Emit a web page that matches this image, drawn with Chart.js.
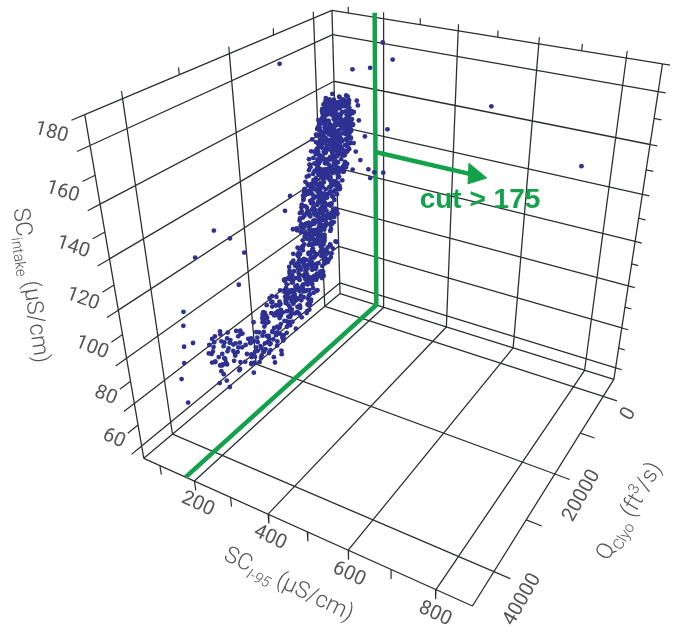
<!DOCTYPE html>
<html><head><meta charset="utf-8">
<script src="https://cdn.jsdelivr.net/npm/chart.js@4.4.1/dist/chart.umd.min.js"></script>
<style>html,body{margin:0;padding:0;background:#fff;overflow:hidden}</style>
</head><body>
<canvas id="c" width="673" height="636"></canvas>
<script>
// ---- axis ranges and ticks ----
const X_RANGE = [52, 878];        // SC I-95 (µS/cm)
const Q_RANGE = [-5000, 46000];   // Q Clyo (ft3/s)
const Z_RANGE = [54, 190];        // SC intake (µS/cm)
const xTicksMajor = [200, 400, 600, 800];
const xTicksMinor = [100, 300, 500, 700];
const qTicksMajor = [0, 20000, 40000];
const qTicksMinor = [10000, 30000];
const zTicksMajor = [60, 80, 100, 120, 140, 160, 180];
const zTicksMinor = [70, 90, 110, 130, 150, 170, 190];
const xTickLabels = ['200', '400', '600', '800'];
const qTickLabels = ['0', '20000', '40000'];
const zTickLabels = ['60', '80', '100', '120', '140', '160', '180'];
const cutValue = 175;
const cutLabel = 'cut > 175';
const arrowZ = 132;

// ---- data, by band: z = SC intake, q = Q Clyo, x = SC I-95 ----
const zBand1 = [160,158.5,161,157.5,159,160.5,158,157,159.5,158, 158,159,160,158.5,157.5,159,158,160.5,157,159.5];
const qBand1 = [700,800,450,1000,600,500,850,1100,650,900, 900,700,500,1000,1100,800,1100,300,1200,750];
const xBand1 = [128,112,145,120,150,105,138,118,155,132, 110,142,125,158,115,135,102,148,122,140];

const zBand2 = [
157,155,153,156,151,158,154,152,150,155.5,
156.5,154.5,152.5,150.5,157.5,153.5,151.5,155,154,152,
150,153,156,151,154,157,152,155,158,150.5,
155.5,153.5,151.5,156.5,154.5,150,152.5,157,153,151,
152,154,156,150.5,153,155,157.5,151,154.5,156,
150,151.5,153.5,155.5,157,152.5,154,156.5,150.5,158,
154,152,150,156,158,153,151,155,157,152.5,
151,153,155,157,150,152,154,156,158,150,
156,154,152,150,155,153,151,157,154.5,152.5,
151.5,153.5,155.5,150.5,156.5,152,154,150,155,157,
153,151,155,157,152,150,156,154,151,153.5,
154,150.5,156,152.5,157,151,155.5,153,150,152];
const qBand2 = [
900,1200,900,600,1800,400,1500,1000,1300,700,
1100,800,1600,1200,500,1400,1100,1300,700,1700,
1800,900,1200,1600,1300,1000,900,700,600,1400,
1300,1500,1000,700,1200,1100,1500,800,1100,1700,
1200,800,1100,1700,1400,900,900,1200,1500,600,
1200,1600,1000,1100,600,1400,1300,800,1600,900,
900,1500,1400,1000,800,1300,1200,1400,1000,1100,
1500,1100,800,800,1900,1000,1700,1200,500,1600,
1000,1300,1100,1700,800,1000,1600,700,1400,1200,
1300,1300,1200,1300,700,1500,900,1600,1100,900,
1400,1200,900,800,1100,1400,1100,1200,1700,1000,
1000,1600,800,1400,1000,1500,1000,1300,1300,1200];
const xBand2 = [
132,98,151,117,168,84,140,109,159,125,
103,146,86,163,121,137,92,171,113,128,
155,88,134,119,82,149,106,165,97,142,
124,161,81,139,111,170,95,130,79,153,
115,136,158,90,127,105,145,85,166,120,
142,87,119,166,101,135,88,157,126,110,
93,128,172,107,144,82,161,118,137,99,
169,112,86,150,131,96,123,85,147,139,
108,154,127,94,170,117,141,86,162,131,
136,101,163,123,88,152,114,168,91,145,
121,149,97,133,158,81,126,104,167,114,
87,139,118,170,102,146,129,93,156,111];

const zBand3 = [
149,147,145,143,141,148,146,144,142,140,
148.5,146.5,144.5,142.5,140.5,149.5,147.5,145.5,143.5,141.5,
140,142,144,146,148,141,143,145,147,149,
145,147,149,141,143,140.5,142.5,144.5,146.5,148.5,
143,146,149,140,144,147,141,145,148,142,
147.5,144,141,148,145.5,142,149,146,143.5,140,
141.5,144,146.5,149,142,145,148,140.5,143,147,
146,142,148,144,140,145,149,141,147,143,
144.5,147.5,141,149.5,143,146,140,148,142.5,145,
149,146,143,140,148,145,142,147,144,141,
147.5,144.5,141.5,148.5,145.5,142.5,149.5,146.5,143.5,140.5,
142,148,145,149,141,146,143,140,147,144,
145,141,147,143,149,140,146,142,148,144,
148,143,146,141,144,149,142,147,140,145.5];
const qBand3 = [
1600,2000,2300,2100,2900,1500,1800,2600,2400,2600,
1900,2300,1900,2800,2500,1300,1700,2200,2700,2400,
3200,2200,2600,1700,1600,2800,2300,2000,2100,1400,
1800,1600,1800,2500,2600,3000,2700,2100,2200,1500,
2500,1900,1500,2900,2300,2000,2600,1900,1800,2300,
1900,2400,2700,1700,2000,2900,1700,2200,2400,3000,
2800,2000,2100,1600,2600,2200,1900,2700,2100,1800,
1800,2700,1500,2300,2800,2000,1700,3100,1700,2400,
2200,1700,2400,1600,2900,2100,2600,2000,2300,2300,
1700,2100,2200,2700,1900,2000,2600,1700,2400,2800,
1600,2100,2500,1800,2200,2400,1600,2000,2500,2900,
2400,1600,2300,1500,2800,1800,2400,3000,1900,2100,
2100,2600,1900,2500,1700,2700,2000,2800,1700,2300,
1800,2300,2100,2700,2200,1500,2700,1800,2900,2000];
const xBand3 = [
160,95,138,83,124,168,107,150,118,134,
113,170,89,127,149,100,164,122,78,143,
148,106,131,160,92,119,173,98,136,85,
132,98,151,117,168,84,140,109,159,125,
103,146,76,163,121,137,92,171,113,128,
155,88,134,119,72,149,106,165,97,142,
124,161,81,139,111,174,95,130,69,153,
115,136,158,90,127,105,145,79,166,120,
142,77,119,166,101,135,88,157,126,110,
93,128,172,107,144,82,161,118,137,99,
169,112,86,150,131,96,123,75,147,139,
108,154,127,94,175,117,141,86,162,131,
136,101,163,123,80,152,114,170,91,145,
121,149,97,133,158,71,126,104,167,114];

const zBand4 = [
139,137,135,133,131,138,136,134,132,130,
138.5,136.5,134.5,132.5,130.5,139.5,137.5,135.5,133.5,131.5,
130,132,134,136,138,131,133,135,137,139,
135,137,139,131,133,130.5,132.5,134.5,136.5,138.5,
133,136,139,130,134,137,131,135,138,132,
137.5,134,131,138,135.5,132,139,136,133.5,130,
131.5,134,136.5,139,132,135,138,130.5,133,137,
136,132,138,134,130,135,139,131,137,133,
139,136,133,130,138,135,132,137,134,131,
137.5,134.5,131.5,138.5,135.5,132.5,139.5,136.5,133.5,130.5,
132,138,135,139,131,136,133,130,137,134,
135,131,137,133,139,130,136,132,138,134,
138,133,136,131,134,139,132,137,130,135.5];
const qBand4 = [
2900,3400,3500,4200,4300,3300,3300,4000,4700,4500,
3000,3800,3600,4100,5000,2700,3000,3900,3800,4800,
5200,4000,3600,3800,2900,4400,4200,3400,3500,3100,
3800,3100,2600,4800,3700,4600,4500,4000,3300,3400,
4300,3600,3000,4900,4000,3400,4400,3700,3200,4600,
3200,4100,4600,3000,3600,4300,2800,3700,3900,4400,
4500,3700,3400,2900,4500,3600,3300,4900,4100,3200,
3300,4400,3100,3800,4900,3400,3000,4700,3600,4000,
2900,3600,4000,4800,3000,3800,4200,3300,3700,4600,
3300,3800,4400,3200,3400,4100,2900,3400,4000,4600,
4200,3200,3500,3000,4700,3500,4200,4800,3300,3900,
3600,4300,3200,4100,2800,4700,3400,4500,3100,3800,
3300,4000,3700,4500,3800,3000,4400,3500,4900,3500];
const xBand4 = [
87,139,118,172,102,146,129,93,156,111,
160,95,138,83,124,168,107,150,118,134,
113,170,89,127,149,100,164,122,78,143,
148,106,131,160,92,119,173,98,136,85,
132,98,151,117,168,84,140,109,159,125,
103,146,76,163,121,137,92,171,113,128,
155,88,134,119,72,149,106,165,97,142,
124,161,81,139,111,174,95,130,69,153,
115,136,158,90,127,105,145,79,166,120,
142,77,119,166,101,135,88,157,126,110,
93,128,172,107,144,82,161,118,137,99,
169,112,86,150,131,96,123,75,147,139,
108,154,127,94,175,117,141,86,162,131];

const zBand5 = [
129,127,125,123,121,128,126,124,122,120,
128.5,126.5,124.5,122.5,120.5,129.5,127.5,125.5,123.5,121.5,
120,122,124,126,128,121,123,125,127,129,
125,127,129,121,123,120.5,122.5,124.5,126.5,128.5,
123,126,129,120,124,127,121,125,128,122,
127.5,124,121,128,125.5,122,129,126,123.5,120,
121.5,124,126.5,129,122,125,128,120.5,123,127,
129,126,123,120,128,125,122,127,124,121,
127.5,124.5,121.5,128.5,125.5,122.5,129.5,126.5,123.5,120.5,
122,128,125,129,121,126,123,120,127,124,
125,121,127,123,129,120,126,122,128,124,
128,123,126,121,124,129,122,127,120,125.5];
const qBand5 = [
5000,5300,6200,6500,7300,5000,5900,6100,7000,7200,
5300,5400,6400,6600,7700,4600,5700,5700,6900,7100,
7900,6600,6500,5400,5500,7400,6400,6100,5200,4800,
5800,5600,4900,7000,6800,7600,7100,6100,5800,5000,
6200,5800,5100,7300,6700,5300,7600,5600,5300,6800,
5500,6400,7100,5400,5900,7200,4800,5600,6500,7600,
7300,6000,6000,4700,6700,6200,5100,7400,6400,5500,
4900,5800,6400,7400,5100,6100,6800,5400,6200,7100,
5500,6100,7000,5300,5800,6900,4800,5500,6700,7500,
6800,5300,6000,4900,7200,5700,6500,7700,5100,6400,
5900,7000,5500,6700,5000,7600,5800,6900,5300,6100,
5000,6600,5600,7300,6200,4700,7000,5200,7300,5800];
const xBand5 = [
136,101,163,123,80,152,114,170,91,145,
121,149,97,133,158,71,126,104,167,114,
87,139,118,172,102,146,129,93,156,111,
160,95,138,83,124,168,107,150,118,134,
113,170,89,127,149,100,164,122,78,143,
148,106,131,160,92,119,173,98,136,85,
132,98,151,117,168,84,140,109,159,125,
103,146,76,163,121,137,92,171,113,128,
155,88,134,119,72,149,106,165,97,142,
124,161,81,139,111,174,95,130,69,153,
115,136,158,90,127,105,145,79,166,120,
142,77,119,166,101,135,88,157,126,110];

const zBand6 = [
119,117,115,113,111,118,116,114,112,110,
118.5,116.5,114.5,112.5,110.5,119.5,117.5,115.5,113.5,111.5,
110,112,114,116,118,111,113,115,117,119,
115,117,119,111,113,110.5,112.5,114.5,116.5,118.5,
113,116,119,110,114,117,111,115,118,112,
117.5,114,111,118,115.5,112,119,116,113.5,110,
119,116,113,110,118,115,112,117,114,111,
117.5,114.5,111.5,118.5,115.5,112.5,119.5,116.5,113.5,110.5,
112,118,115,119,111,116,113,110,117,114,
115,111,117,113,119,110,116,112,118,114,
118,113,116,111,114,119,112,117,110,115.5,
116,112,118,114,110,117,113,119,111,115,
113.5,117.5,110.5,115.5,119,112.5,116.5,111,118,114.5];
const qBand6 = [
7600,8500,8800,9700,10600,8300,8600,9400,10400,11200,
7900,8800,9000,10100,10500,7600,8100,9200,9600,10700,
11000,9800,9100,8800,8000,10300,10000,9000,8200,7900,
8900,8200,7800,10900,9800,10600,9900,9500,8500,8200,
9500,8600,7400,10700,9200,8400,10200,9000,8100,10300,
8300,9600,10500,7800,9000,10200,7700,8900,9700,11100,
7700,8600,9600,10900,8000,9100,10000,8400,9300,10600,
8300,9100,10400,7900,8900,9900,7600,8700,9500,10700,
10200,8100,8800,7800,10500,8900,9700,11000,8400,9300,
9000,10300,8300,9800,7500,10900,8600,10000,8200,9600,
8000,9500,8800,10600,9200,7900,10100,8500,11100,8900,
8500,10100,8200,9400,11000,8300,9900,7700,10400,9000,
9800,8400,10800,8900,7600,10000,8700,10600,8100,9200];
const xBand6 = [
108,143,187,122,159,97,176,133,152,114,
184,127,101,165,146,111,138,90,162,154,
123,169,142,109,190,132,156,101,177,146,
151,116,178,138,95,167,129,185,106,160,
136,164,112,148,173,86,141,119,182,129,
102,154,133,187,117,161,144,108,171,126,
175,110,153,98,139,183,122,165,133,149,
128,185,104,142,164,115,179,137,93,158,
163,121,146,175,107,134,188,113,151,100,
147,113,166,132,183,99,155,124,174,140,
118,161,91,178,136,152,107,186,128,143,
170,103,149,134,87,164,121,180,112,157,
139,176,96,154,126,189,110,145,84,168];

const zBand7 = [
105,103,101,99,97,104,102,100,98,96,
104.5,102.5,100.5,98.5,96.5,105.5,103.5,101.5,99.5,97.5,
96,98,100,102,104,97,99,101,103,105,
101,103,105,97,99,96.5,98.5,100.5,102.5,104.5,
99,102,105,96,100,103,97,101,104,98,
105,102,99,96,104,101,98,103,100,97,
103.5,100.5,97.5,104.5,101.5,98.5,105.5,102.5,99.5,96.5,
98,104,101,105,97,102,99,96,103,100,
101,97,103,99,105,96,102,98,104,100,
104,99,102,97,100,105,98,103,96,101.5,
102,98,104,100,96,103,99,105,97,101,
99.5,103.5,96.5,101.5,105,98.5,102.5,97,104,100.5];
const qBand7 = [
8200,9400,9800,11000,11600,8600,9900,10200,11800,12400,
9100,9000,10600,10700,12500,8100,8800,9600,11100,11400,
11800,11700,9900,9200,9300,12200,10500,10100,9000,8700,
9400,8900,8400,12000,10800,12300,11100,10300,10000,8500,
10300,9500,7900,12800,10700,9100,11200,9800,9000,11500,
8300,9500,10900,12300,8700,9800,11500,9100,10300,11900,
8900,10200,11700,8600,9900,11200,8100,9400,10600,12200,
11200,9000,10000,8200,11600,9800,10700,12600,9200,10500,
9600,11800,9100,10800,8000,12100,9300,11400,8500,10200,
8800,11100,9700,11500,10400,8500,11000,8900,12400,10100,
9600,11400,8700,10400,12400,9200,10900,8400,11700,9900,
10600,8900,12300,9800,8100,11200,9500,11900,8800,10200];
const xBand7 = [
130,151,173,105,142,120,160,94,181,135,
157,92,134,181,116,150,103,172,141,125,
108,143,187,122,159,97,176,133,152,114,
184,127,101,165,146,111,138,90,162,154,
123,169,142,109,190,132,156,101,177,146,
151,116,178,138,95,167,129,185,106,160,
136,164,112,148,173,86,141,119,182,129,
102,154,133,187,117,161,144,108,171,126,
175,110,153,98,139,183,122,165,133,149,
128,185,104,142,164,115,179,137,93,158,
163,121,146,175,107,134,188,113,151,100,
147,113,166,132,183,99,155,124,174,140];

const zBand8 = [
93.5,91.5,89.5,87.5,92.5,90.5,88.5,86.5,94,90,
93,91,89,87,92,89.5,88,93.5,90.5,88.5,
86.5,88.5,90.5,92.5,94.5,87.5,89.5,91.5,93.5,91,
89.5,91.5,93.5,87.5,89,87,92.5,90.5,94.5,92,
87.5,90.5,93.5,86.5,88.5,91.5,90,93,88,94.5,
93.5,91.5,89.5,87.5,92.5,90.5,88.5,86.5,92,90,
93,91,89,87,94,89.5,88,91.5,90.5,88.5,
87.5,89.5,91.5,93.5,86.5,88.5,90.5,92.5,94.5,90,
90.5,92.5,88.5,94.5,87.5,91.5,89.5,93.5,87,92,
88.5,93.5,90.5,86.5,92.5,89.5,87.5,91.5,94,91,
91.5,87.5,93.5,89.5,86.5,92.5,88.5,90.5,94.5,88,
90,94,87,91,92.5,89,92,87.5,93.5,90.5];
const qBand8 = [
12000,12600,14200,15700,12700,13200,15300,16600,11400,13800,
12100,14100,14400,16800,12500,14800,15200,11600,13100,14600,
15800,15000,13400,13000,11000,16300,13800,12900,12300,13600,
14300,13200,11800,15500,14700,16100,11900,14000,11700,12800,
17000,14500,12200,15200,15800,12300,13500,12400,16100,10800,
11700,13000,13900,15600,12200,13500,15100,16000,12600,14100,
12300,13400,14600,16400,11500,14000,15800,12800,13200,14800,
15400,14500,13100,12100,16700,15100,13800,12500,11300,14300,
13300,12600,15500,10900,15900,12400,14700,11900,15700,13100,
14400,11800,14100,16900,12900,13800,16200,12700,12000,13500,
13100,15500,12000,14200,16500,12500,15000,13700,11500,15300,
14000,11700,16200,13400,12300,14600,12800,15700,12100,13600];
const xBand8 = [
118,161,91,178,136,152,107,186,128,143,
170,103,149,134,87,164,121,180,112,157,
139,176,96,154,126,189,110,145,84,168,
130,151,173,105,142,120,160,94,181,135,
157,92,134,181,116,150,103,172,141,125,
108,143,187,122,159,97,176,133,152,114,
184,127,101,165,146,111,138,90,162,154,
123,169,142,109,190,132,156,101,177,146,
151,116,178,138,95,167,129,185,106,160,
136,164,112,148,173,86,141,119,182,129,
102,154,133,187,117,161,144,108,171,126,
175,110,153,98,139,183,122,165,133,149];

const zBand9 = [
84.5,82.5,80.5,79,83.5,81.5,79.5,85,83,81,
84,82,80,78.5,84.5,82.5,80.5,85.5,83.5,81.5,
78.5,80.5,82.5,84.5,79.5,81.5,83.5,85.5,80,83,
81.5,83.5,79.5,84.5,81,79,82.5,85.5,80.5,84,
82.5,79.5,85,82,78.5,83.5,80.5,85.5,81.5,79.5,
84,82.5,81,79.5,83,81.5,80,85,82.5,81.5,
83.5,82,80.5,79,84.5,82,80,85,83,81,
79.5,81.5,83.5,85.5,78.5,80.5,82.5,84.5,82,80,
82.5,84.5,80.5,79,83.5,81.5,79.5,85.5,81,83,
80.5,83.5,78.5,81.5,84.5,79.5,82.5,85.5,80,84];
const qBand9 = [
16200,18100,19900,21600,16800,19600,21100,16600,17800,20400,
17900,18800,21900,23100,15700,17400,20600,16900,17500,18300,
22000,20300,19400,16500,22800,18600,16300,15100,20200,17100,
20100,17600,22400,17700,19300,23700,18500,15900,21400,16400,
19100,20800,17400,20000,23500,17300,19700,16700,18700,22200,
16900,18200,20300,22200,17500,19400,21700,16200,18000,19800,
16600,19500,21300,22500,17200,17700,20100,15700,18100,18900,
20800,19200,18300,15500,23000,20900,18400,17000,19700,21600,
18600,16500,20500,22700,17100,19900,21000,16000,19100,17600,
20000,17900,21900,19600,16300,22200,18100,15200,20700,16800];
const xBand9 = [
133,77,164,110,186,89,148,119,173,101,
114,156,81,141,179,98,167,125,85,152,
171,95,136,75,160,123,187,106,144,83,
88,149,175,116,80,162,132,183,103,140,
155,107,79,168,127,190,94,145,112,176,
128,185,104,142,164,115,179,137,93,158,
163,121,146,175,107,134,188,113,151,100,
147,113,166,132,183,99,155,124,174,140,
118,161,91,178,136,152,107,186,128,143,
170,103,149,134,87,164,121,180,112,157];

const zBand10 = [
80.5,78.5,76.5,74.5,79.5,77.5,75.5,81,79,77,
80,78,76,74,80.5,78.5,76.5,75,79.5,77.5,
81.5,79.5,77.5,75.5,73.5,80.5,78.5,76.5,74.5,82.5,
80.5,79.5,78.5,77.5,76.5,81,80,79,78,77,
79.5,78.5,80.5,77.5,80,76.5,79,80.5,77.5,79.5];
const qBand10 = [
25200,27500,29400,32200,26400,29000,30800,24300,27100,30500,
25900,28600,31300,33400,27000,26700,28900,32800,25000,29800,
25700,28000,28100,31600,34200,23900,29200,31900,30700,26200,
25700,26900,27700,29300,30400,24700,26000,28500,28700,30000,
26300,27800,25000,29600,26500,30900,27400,26100,28400,27200];
const xBand10 = [
133,77,164,110,186,89,148,119,173,101,
114,156,81,141,179,98,167,125,85,152,
171,95,136,75,160,123,187,106,144,83,
88,149,175,116,80,162,132,183,103,140,
155,107,79,168,127,190,94,145,112,176];

const zBand11 = [
85,83,87,82.5,86,84,88,83.5,85.5,82,
84.5,86.5,83,87.5,82,85,84,86,83.5,87,
86,82.5,84.5,87,83,85.5,82,84,86.5,85];
const qBand11 = [
30500,32800,29400,33600,30900,31800,29000,32300,30200,33900,
31200,29800,32600,29300,34100,30700,31500,30000,33200,29600,
29900,33300,31000,29100,32900,30400,33800,31700,30100,31300];
const xBand11 = [
95,132,78,150,110,88,165,120,72,140,
125,84,158,100,136,70,147,116,92,170,
105,143,80,128,96,155,118,74,162,112];

const zBand12 = [
76,73,78,74.5,77,72.5,75.5,79,73.5,76.5,
74,77.5,72,75,78.5,73,76,79.5,74.5,71.5];
const qBand12 = [
23500,25200,22400,24600,23000,25800,24000,22200,25000,23700,
24800,22800,25500,23300,22600,24900,23900,22100,24300,25600];
const xBand12 = [
150,122,178,135,165,118,188,142,128,172,
160,131,185,145,120,175,138,155,192,126];

const zOutliers = [185,172,174,185,179,168,152,160,158,152,146,143,140,137,133,133,131,150,134,133,126,121,138,145,135,130,122,130,112,97,99,104,108,92,88,78,81,86,84];
const qOutliers = [15500,0,0,0,0,0,0,700,600,900,1200,2000,2400,2600,2600,3400,3300,200,2800,2000,11500,13000,7000,5500,31000,29000,27000,35500,29500,39000,38500,38000,37000,40000,41500,41500,37000,33500,34500];
const xOutliers = [130,160,210,245,272,530,755,178,180,185,205,180,190,205,245,190,240,260,230,265,90,90,100,95,115,130,140,120,150,110,130,100,90,120,130,140,172,110,150];

const bands = [
  [zBand1,qBand1,xBand1],[zBand2,qBand2,xBand2],[zBand3,qBand3,xBand3],[zBand4,qBand4,xBand4],
  [zBand5,qBand5,xBand5],[zBand6,qBand6,xBand6],[zBand7,qBand7,xBand7],[zBand8,qBand8,xBand8],
  [zBand9,qBand9,xBand9],[zBand10,qBand10,xBand10],[zBand11,qBand11,xBand11],[zBand12,qBand12,xBand12],
  [zOutliers,qOutliers,xOutliers]
];
const scIntake=[], qClyo=[], scI95=[];
for(const [z,q,x] of bands){ const n=Math.min(z.length,q.length,x.length); for(let i=0;i<n;i++){ scIntake.push(z[i]); qClyo.push(q[i]); scI95.push(x[i]); } }

// ---- view: unit-box corners (u=X, v=Q, w=Z) -> chart units ----
const VIEW_CORNERS = [
  [0,1,0, 142.7,460], [0,1,1, 83,112.5], [1,1,0, 473,608], [0,0,1, 331.7,8.3],
  [1,0,1, 665,62], [1,0,0, 616,380], [0,0,0, 340,293]
];
function solveCamera(pts){
  const A=[], b=[];
  for(const [u,v,w,x,y] of pts){
    A.push([u,v,w,1,0,0,0,0,-x*u,-x*v,-x*w]); b.push(x);
    A.push([0,0,0,0,u,v,w,1,-y*u,-y*v,-y*w]); b.push(y);
  }
  const n=11, M=[];
  for(let i=0;i<n;i++){ M.push(new Array(n+1).fill(0)); }
  for(let r=0;r<A.length;r++){
    for(let i=0;i<n;i++){
      for(let j=0;j<n;j++) M[i][j]+=A[r][i]*A[r][j];
      M[i][n]+=A[r][i]*b[r];
    }
  }
  for(let i=0;i<n;i++){
    let p=i; for(let k=i+1;k<n;k++) if(Math.abs(M[k][i])>Math.abs(M[p][i])) p=k;
    const t=M[i]; M[i]=M[p]; M[p]=t;
    for(let k=0;k<n;k++){ if(k===i) continue; const f=M[k][i]/M[i][i]; for(let j=i;j<=n;j++) M[k][j]-=f*M[i][j]; }
  }
  return M.map((row,i)=>row[n]/row[i]);
}
const CAM = solveCamera(VIEW_CORNERS);
const [Xa,Xb]=X_RANGE, [Qa,Qb]=Q_RANGE, [Za,Zb]=Z_RANGE;
function proj(X,Q,Z){
  const u=(X-Xa)/(Xb-Xa), v=(Q-Qa)/(Qb-Qa), w=(Z-Za)/(Zb-Za);
  const d=CAM[8]*u+CAM[9]*v+CAM[10]*w+1;
  return {x:(CAM[0]*u+CAM[1]*v+CAM[2]*w+CAM[3])/d, y:(CAM[4]*u+CAM[5]*v+CAM[6]*w+CAM[7])/d};
}
function seg(arr,a,b){ const p=proj(a[0],a[1],a[2]), q=proj(b[0],b[1],b[2]); arr.push(p,q,{x:q.x,y:null}); }

// grid (left wall, back wall, floor)
const gridData=[];
for(const z of [Za,...zTicksMajor,Zb]) seg(gridData,[Xa,Qa,z],[Xa,Qb,z]);
for(const q of [Qa,...qTicksMajor,Qb]) seg(gridData,[Xa,q,Za],[Xa,q,Zb]);
for(const z of [Za,...zTicksMajor,Zb]) seg(gridData,[Xa,Qa,z],[Xb,Qa,z]);
for(const x of [...xTicksMajor,Xb]) seg(gridData,[x,Qa,Za],[x,Qa,Zb]);
for(const x of [...xTicksMajor,Xb]) seg(gridData,[x,Qa,Za],[x,Qb,Za]);
for(const q of [...qTicksMajor,Qb]) seg(gridData,[Xa,q,Za],[Xb,q,Za]);

// ticks
const tickData=[];
const zAll=[...zTicksMajor,...zTicksMinor], xAll=[...xTicksMajor,...xTicksMinor], qAll=[...qTicksMajor,...qTicksMinor];
for(const z of zAll){ seg(tickData,[Xa,Qb,z],[Xa,Qb+2000,z]); seg(tickData,[Xb,Qa,z],[Xb+16,Qa,z]); }
for(const x of xAll){ seg(tickData,[x,Qb,Za],[x,Qb,Za-4.5]); seg(tickData,[x,Qa,Zb],[x,Qa,Zb+2.5]); }
for(const q of qAll){ seg(tickData,[Xb,q,Za],[Xb+35,q,Za]); seg(tickData,[Xa,q,Zb],[Xa,q,Zb+2.5]); }

// cut plane trace and arrow
const greenData=[proj(cutValue,Qb,Za),proj(cutValue,Qa,Za),proj(cutValue,Qa,Zb+1.8)];
const shaftData=[proj(cutValue,Qa,arrowZ),proj(450,Qa,arrowZ)];
const headData=[proj(494,Qa,arrowZ),proj(444,Qa,arrowZ+4.6),proj(444,Qa,arrowZ-4.6),proj(494,Qa,arrowZ)];

const pointData=scIntake.map((z,i)=>proj(scI95[i],qClyo[i],z));

const GRID='#2b302f', GREEN='#13a24b', NAVY='#2e3192', TXT='#555555';

const textPlugin={
  id:'labels3d',
  afterDraw(chart){
    const ctx=chart.ctx, sx=chart.scales.x, sy=chart.scales.y;
    const P=(p)=>({x:sx.getPixelForValue(p.x), y:sy.getPixelForValue(p.y)});
    const ang=(a,b)=>{const p=P(a),q=P(b);return Math.atan2(q.y-p.y,q.x-p.x);};
    function txt(t,p,a,align,font){
      const pp=P(p); ctx.save(); ctx.translate(pp.x,pp.y); ctx.rotate(a);
      ctx.font=font; ctx.fillStyle=TXT; ctx.textAlign=align; ctx.textBaseline='middle';
      ctx.fillText(t,0,0); ctx.restore();
    }
    const tf='20px Roboto, "Liberation Sans", sans-serif';
    zTicksMajor.forEach((z,i)=>{
      const p=proj(Xa-18,Qb+2000,z+4), p2=proj(Xa+60,Qb+2000,z+4);
      txt(zTickLabels[i],p,ang(p,p2),'right',tf);
    });
    xTicksMajor.forEach((x,i)=>{
      const p=proj(x,Qb,Za-11.5), p2=proj(x+60,Qb,Za-11.5);
      txt(xTickLabels[i],p,ang(p,p2),'center',tf);
    });
    qTicksMajor.forEach((q,i)=>{
      const p=proj(Xb+76,q+2200,Za), p2=proj(Xb+76,q-1800,Za);
      txt(qTickLabels[i],p,ang(p,p2),'center',tf);
    });
    function rich(parts,cx,cy,a){
      ctx.save(); ctx.translate(sx.getPixelForValue(cx),sy.getPixelForValue(cy)); ctx.rotate(a*Math.PI/180);
      ctx.fillStyle=TXT; ctx.textBaseline='alphabetic'; ctx.textAlign='left';
      let w=0; for(const p of parts){ctx.font=p.f; w+=ctx.measureText(p.t).width;}
      let x=-w/2; for(const p of parts){ctx.font=p.f; ctx.fillText(p.t,x,8+(p.dy||0)); x+=ctx.measureText(p.t).width;}
      ctx.restore();
    }
    const big='300 23px Roboto, "Liberation Sans", sans-serif', sub='300 15px Roboto, "Liberation Sans", sans-serif', subI='italic 300 15px Roboto, "Liberation Sans", sans-serif';
    rich([{t:'SC',f:big},{t:'intake',f:sub,dy:6},{t:' (µS/cm)',f:big}],30,285,82);
    rich([{t:'SC',f:big},{t:'I-95',f:subI,dy:6},{t:' (µS/cm)',f:big}],289,585,26);
    rich([{t:'Q',f:big},{t:'Clyo',f:sub,dy:6},{t:' (ft',f:big},{t:'3',f:sub,dy:-9},{t:'/s)',f:big}],630,512,-60);
    ctx.save(); ctx.font='bold 28px "Liberation Sans", Arial, sans-serif'; ctx.fillStyle=GREEN;
    ctx.textAlign='center'; ctx.textBaseline='middle';
    ctx.fillText(cutLabel,sx.getPixelForValue(481),sy.getPixelForValue(199)); ctx.restore();
  }
};

new Chart(document.getElementById('c'),{
  type:'scatter',
  data:{datasets:[
    {type:'scatter',data:pointData,backgroundColor:NAVY,borderWidth:0,pointRadius:2.4,pointHoverRadius:2.4},
    {type:'line',data:headData,borderColor:GREEN,backgroundColor:GREEN,borderWidth:1,pointRadius:0,fill:'shape',tension:0},
    {type:'line',data:shaftData,borderColor:GREEN,borderWidth:4.5,pointRadius:0,fill:false,borderCapStyle:'butt'},
    {type:'line',data:greenData,borderColor:GREEN,borderWidth:4.5,pointRadius:0,fill:false,borderJoinStyle:'miter'},
    {type:'line',data:tickData,borderColor:GRID,borderWidth:1.2,pointRadius:0,fill:false,spanGaps:false},
    {type:'line',data:gridData,borderColor:GRID,borderWidth:1.3,pointRadius:0,fill:false,spanGaps:false}
  ]},
  options:{
    responsive:false, animation:false,
    layout:{padding:0},
    scales:{
      x:{type:'linear',min:0,max:673,display:false},
      y:{type:'linear',min:0,max:636,reverse:true,display:false}
    },
    plugins:{legend:{display:false},tooltip:{enabled:false}}
  },
  plugins:[textPlugin]
});
</script>
</body></html>
